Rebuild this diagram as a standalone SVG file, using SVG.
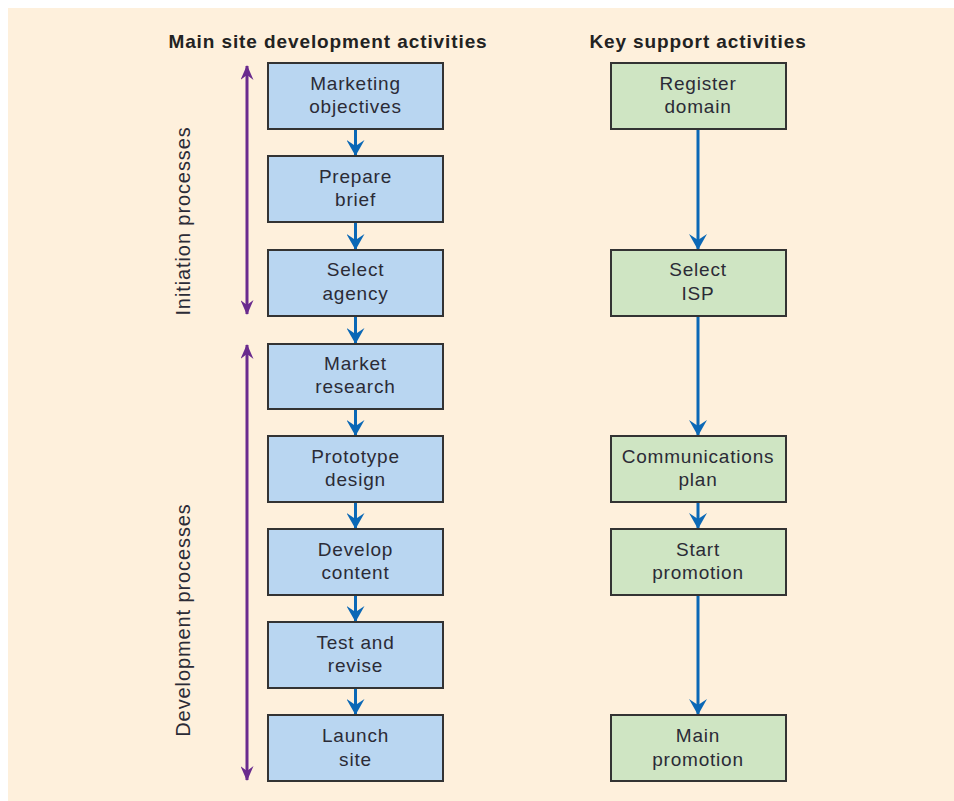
<svg xmlns="http://www.w3.org/2000/svg" width="954" height="801" viewBox="0 0 954 801">
<style>
.bg{fill:#fef0dc}
.b{fill:#b9d6f1;stroke:#333;stroke-width:2}
.g{fill:#cfe5c3;stroke:#333;stroke-width:2}
.t{font-family:"Liberation Sans",Arial,sans-serif;font-size:19px;letter-spacing:0.8px;fill:#2b2b36;text-anchor:middle}
.v{font-family:"Liberation Sans",Arial,sans-serif;font-size:20px;letter-spacing:0.9px;fill:#2b2b36;text-anchor:middle}
.h{font-family:"Liberation Sans",Arial,sans-serif;font-size:19px;letter-spacing:0.9px;font-weight:bold;fill:#222;text-anchor:middle}
.bl{stroke:#0b68b6;stroke-width:3;fill:none}
.pu{stroke:#6a2b8e;stroke-width:3;fill:none}
</style>
<defs>
<marker id="ab" viewBox="0 0 16 18" refX="15" refY="9" markerWidth="16" markerHeight="18" markerUnits="userSpaceOnUse" orient="auto"><path d="M0,0 L16,9 L0,18 L6,9 z" fill="#0b68b6"/></marker>
<marker id="ap" viewBox="0 0 15 13" refX="14" refY="6.5" markerWidth="15" markerHeight="13" markerUnits="userSpaceOnUse" orient="auto-start-reverse"><path d="M0,0 L15,6.5 L0,13 L5,6.5 z" fill="#6a2b8e"/></marker>
</defs>
<rect class="bg" x="8" y="8" width="946" height="793"/>
<text class="h" x="328" y="48">Main site development activities</text>
<text class="h" x="698" y="48">Key support activities</text>
<text class="v" transform="translate(190,221) rotate(-90)">Initiation processes</text>
<text class="v" transform="translate(190,620) rotate(-90)">Development processes</text>
<g id="connectors">
<line class="pu" x1="247" y1="66" x2="247" y2="314" marker-start="url(#ap)" marker-end="url(#ap)"/>
<line class="pu" x1="247" y1="345" x2="247" y2="780" marker-start="url(#ap)" marker-end="url(#ap)"/>
<line class="bl" x1="355.5" y1="130" x2="355.5" y2="155" marker-end="url(#ab)"/>
<line class="bl" x1="355.5" y1="223" x2="355.5" y2="249" marker-end="url(#ab)"/>
<line class="bl" x1="355.5" y1="317" x2="355.5" y2="343" marker-end="url(#ab)"/>
<line class="bl" x1="355.5" y1="410" x2="355.5" y2="435" marker-end="url(#ab)"/>
<line class="bl" x1="355.5" y1="503" x2="355.5" y2="528" marker-end="url(#ab)"/>
<line class="bl" x1="355.5" y1="596" x2="355.5" y2="621" marker-end="url(#ab)"/>
<line class="bl" x1="355.5" y1="689" x2="355.5" y2="714" marker-end="url(#ab)"/>
<line class="bl" x1="698" y1="130" x2="698" y2="249" marker-end="url(#ab)"/>
<line class="bl" x1="698" y1="317" x2="698" y2="435" marker-end="url(#ab)"/>
<line class="bl" x1="698" y1="503" x2="698" y2="528" marker-end="url(#ab)"/>
<line class="bl" x1="698" y1="596" x2="698" y2="714" marker-end="url(#ab)"/>
</g>
<g id="n1"><rect class="b" x="268" y="63" width="175" height="66"/><text class="t" x="355.5" y="90">Marketing</text><text class="t" x="355.5" y="113">objectives</text></g>
<g id="n2"><rect class="b" x="268" y="156" width="175" height="66"/><text class="t" x="355.5" y="183">Prepare</text><text class="t" x="355.5" y="206">brief</text></g>
<g id="n3"><rect class="b" x="268" y="250" width="175" height="66"/><text class="t" x="355.5" y="276">Select</text><text class="t" x="355.5" y="300">agency</text></g>
<g id="n4"><rect class="b" x="268" y="344" width="175" height="65"/><text class="t" x="355.5" y="370">Market</text><text class="t" x="355.5" y="393">research</text></g>
<g id="n5"><rect class="b" x="268" y="436" width="175" height="66"/><text class="t" x="355.5" y="463">Prototype</text><text class="t" x="355.5" y="486">design</text></g>
<g id="n6"><rect class="b" x="268" y="529" width="175" height="66"/><text class="t" x="355.5" y="556">Develop</text><text class="t" x="355.5" y="579">content</text></g>
<g id="n7"><rect class="b" x="268" y="622" width="175" height="66"/><text class="t" x="355.5" y="649">Test and</text><text class="t" x="355.5" y="672">revise</text></g>
<g id="n8"><rect class="b" x="268" y="715" width="175" height="66"/><text class="t" x="355.5" y="742">Launch</text><text class="t" x="355.5" y="766">site</text></g>
<g id="s1"><rect class="g" x="611" y="63" width="175" height="66"/><text class="t" x="698" y="90">Register</text><text class="t" x="698" y="113">domain</text></g>
<g id="s2"><rect class="g" x="611" y="250" width="175" height="66"/><text class="t" x="698" y="276">Select</text><text class="t" x="698" y="300">ISP</text></g>
<g id="s3"><rect class="g" x="611" y="436" width="175" height="66"/><text class="t" x="698" y="463">Communications</text><text class="t" x="698" y="486">plan</text></g>
<g id="s4"><rect class="g" x="611" y="529" width="175" height="66"/><text class="t" x="698" y="556">Start</text><text class="t" x="698" y="579">promotion</text></g>
<g id="s5"><rect class="g" x="611" y="715" width="175" height="66"/><text class="t" x="698" y="742">Main</text><text class="t" x="698" y="766">promotion</text></g>
</svg>
